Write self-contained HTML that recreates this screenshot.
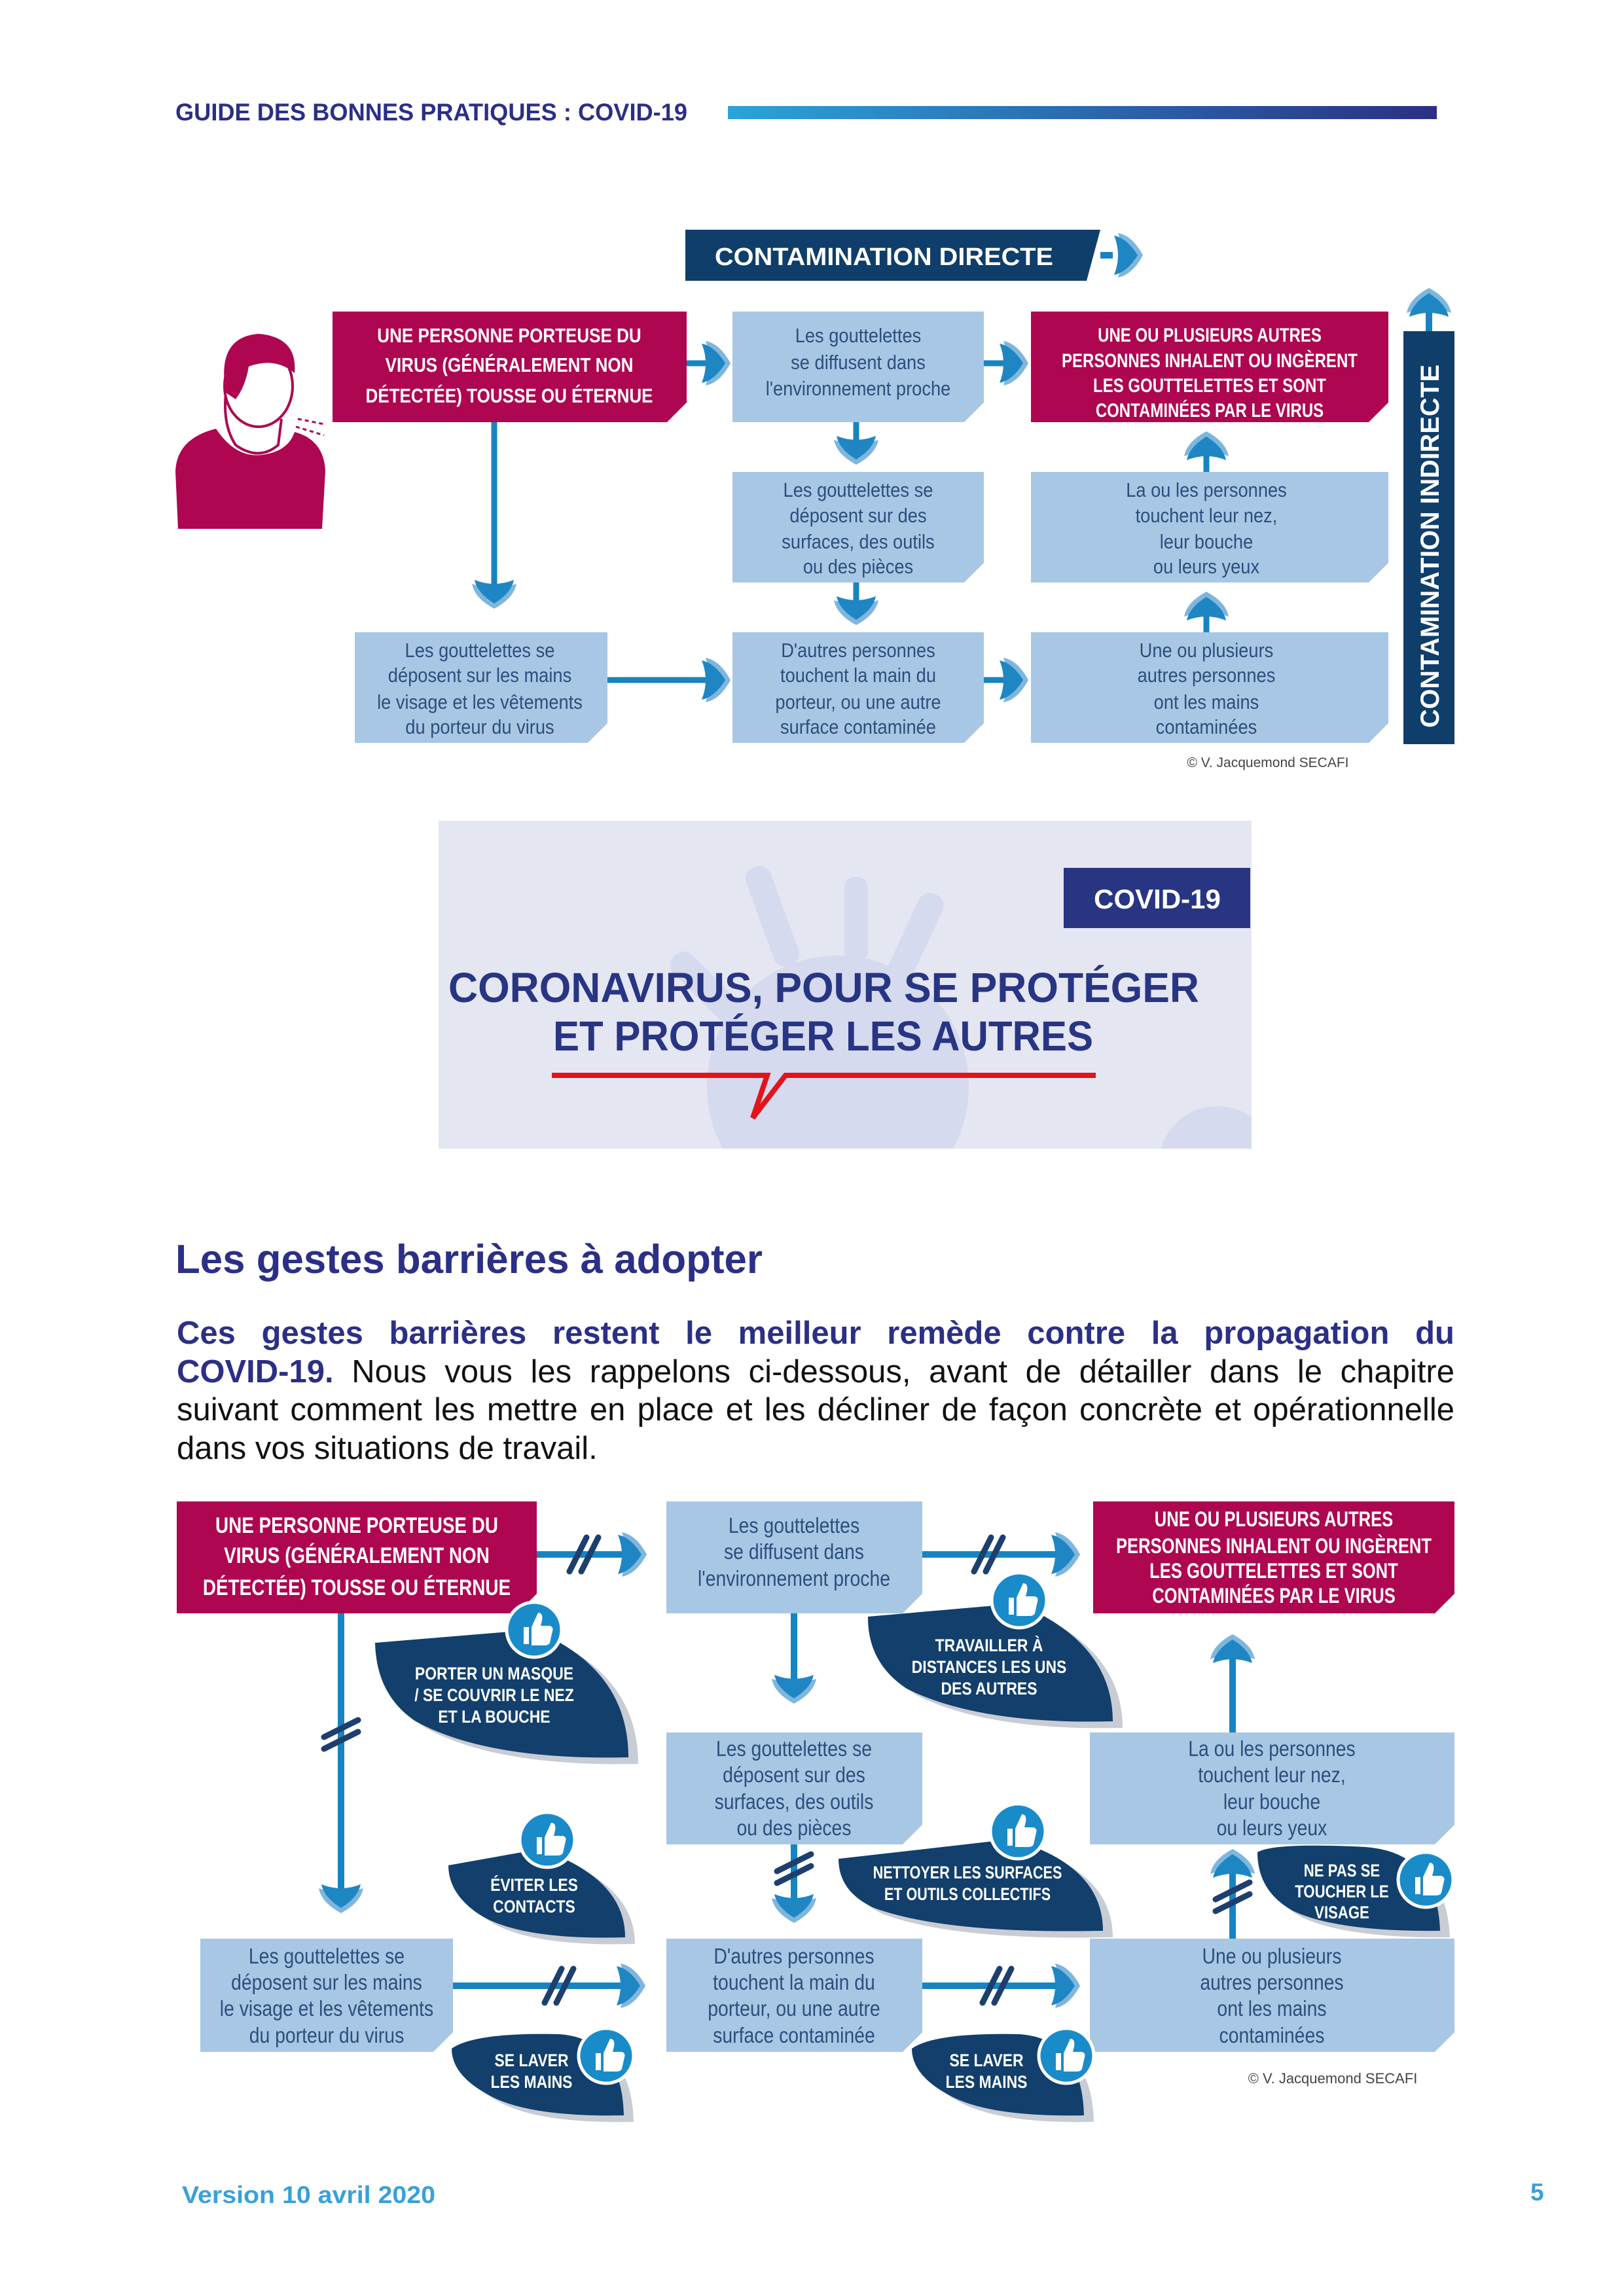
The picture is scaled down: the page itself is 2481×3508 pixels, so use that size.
<!DOCTYPE html>
<html><head><meta charset="utf-8">
<style>
html,body{margin:0;padding:0;background:#fff;}
body{width:2481px;height:3508px;position:relative;overflow:hidden;font-family:"Liberation Sans",sans-serif;}
svg{position:absolute;left:0;top:0;}
.para{position:absolute;left:270px;top:2008px;width:1952px;font-size:49px;line-height:58.5px;color:#111;}
.para div{text-align:justify;text-align-last:justify;white-space:nowrap;}
.para div.l{text-align-last:left;}
.para b{color:#2b2f86;}
</style></head><body>
<svg width="2481" height="3508" viewBox="0 0 2481 3508" font-family="'Liberation Sans',sans-serif">
<defs>
<linearGradient id="hg" x1="0" x2="1"><stop offset="0" stop-color="#2aa3db"/><stop offset="1" stop-color="#2b2f86"/></linearGradient>
<clipPath id="bc"><rect x="670" y="1254" width="1242" height="501"/></clipPath>
<g id="ah"><path d="M-20,-34 Q2,-30 18,0 Q2,30 -20,34 Q-8,0 -20,-34Z" fill="#7fb6dd"/><path d="M-26,-30 Q-6,-26 10,0 Q-6,26 -26,30 Q-14,0 -26,-30Z" fill="#1f86c4"/></g>
<g id="sl"><line x1="-22" y1="26" x2="4" y2="-26" stroke="#1d3f6e" stroke-width="9" stroke-linecap="round"/><line x1="-4" y1="26" x2="22" y2="-26" stroke="#1d3f6e" stroke-width="9" stroke-linecap="round"/></g>
<g id="th"><circle r="42" fill="#1a8bc9" stroke="#fff" stroke-width="5"/><path d="M-16,-4 h8 v26 h-8z M-4,-4 l10,-22 q8,0 6,12 l-2,8 h14 q6,2 4,8 l-4,18 q-2,4 -8,4 h-20z" fill="#fff"/></g>
</defs>

<!-- header -->
<text x="268" y="184" font-weight="bold" font-size="37" fill="#2b2f86" textLength="782" lengthAdjust="spacingAndGlyphs">GUIDE DES BONNES PRATIQUES : COVID-19</text>
<rect x="1112" y="162" width="1083" height="20" fill="url(#hg)"/>

<!-- ========== DIAGRAM 1 ========== -->
<polygon points="1047,351 1681,351 1660,429 1047,429" fill="#0f3e6b"/>
<text x="1092" y="405" font-weight="bold" font-size="38" fill="#fff" textLength="517" lengthAdjust="spacingAndGlyphs">CONTAMINATION DIRECTE</text>
<line x1="1681" y1="390" x2="1700" y2="390" stroke="#1784c1" stroke-width="10"/>
<use href="#ah" x="1728" y="390"/>

<rect x="2144" y="506" width="78" height="631" fill="#0f3e6b"/>
<text transform="translate(2198,1112) rotate(-90)" font-weight="bold" font-size="40" fill="#fff" textLength="555" lengthAdjust="spacingAndGlyphs">CONTAMINATION INDIRECTE</text>
<line x1="2183" y1="506" x2="2183" y2="470" stroke="#1784c1" stroke-width="10"/>
<use href="#ah" transform="translate(2183,458) rotate(-90)"/>

<!-- person -->
<path d="M272,808 L268,720 Q270,670 330,655 Q360,700 400,695 Q440,690 450,660 Q495,672 497,720 L492,808Z" fill="#ae0650"/>
<path d="M345,600 Q340,650 360,680 Q395,705 425,680 L430,640" fill="#fff" stroke="#ae0650" stroke-width="4"/>
<ellipse cx="395" cy="590" rx="52" ry="62" fill="#fff" stroke="#ae0650" stroke-width="4"/>
<path d="M345,600 Q330,515 395,510 Q455,515 450,570 Q420,545 380,560 Q375,590 360,610Z" fill="#ae0650"/>
<line x1="455" y1="640" x2="495" y2="648" stroke="#ae0650" stroke-width="3" stroke-dasharray="6 5"/>
<line x1="452" y1="652" x2="495" y2="665" stroke="#ae0650" stroke-width="3" stroke-dasharray="6 5"/>

<!-- boxes row 1 -->
<polygon points="508,476 1049,476 1049,615 1019,645 508,645" fill="#ae0650"/>
<g font-weight="bold" font-size="31" fill="#fff" text-anchor="middle" transform="translate(778 0) scale(0.84 1) translate(-778 0)">
<text x="778" y="523">UNE PERSONNE PORTEUSE DU</text>
<text x="778" y="568">VIRUS (GÉNÉRALEMENT NON</text>
<text x="778" y="615">DÉTECTÉE) TOUSSE OU ÉTERNUE</text>
</g>
<polygon points="1119,476 1503,476 1503,615 1473,645 1119,645" fill="#a8c7e4"/>
<g font-size="31" fill="#2c4f7c" text-anchor="middle" transform="translate(1311 0) scale(0.88 1) translate(-1311 0)">
<text x="1311" y="523">Les gouttelettes</text>
<text x="1311" y="564">se diffusent dans</text>
<text x="1311" y="604">l'environnement proche</text>
</g>
<polygon points="1575,476 2121,476 2121,615 2091,645 1575,645" fill="#ae0650"/>
<g font-weight="bold" font-size="30" fill="#fff" text-anchor="middle" transform="translate(1848 0) scale(0.8 1) translate(-1848 0)">
<text x="1848" y="522">UNE OU PLUSIEURS AUTRES</text>
<text x="1848" y="561">PERSONNES INHALENT OU INGÈRENT</text>
<text x="1848" y="599">LES GOUTTELETTES ET SONT</text>
<text x="1848" y="637">CONTAMINÉES PAR LE VIRUS</text>
</g>
<!-- row 2 -->
<polygon points="1119,721 1503,721 1503,860 1473,890 1119,890" fill="#a8c7e4"/>
<g font-size="31" fill="#2c4f7c" text-anchor="middle" transform="translate(1311 0) scale(0.88 1) translate(-1311 0)">
<text x="1311" y="759">Les gouttelettes se</text>
<text x="1311" y="798">déposent sur des</text>
<text x="1311" y="838">surfaces, des outils</text>
<text x="1311" y="876">ou des pièces</text>
</g>
<polygon points="1575,721 2121,721 2121,860 2091,890 1575,890" fill="#a8c7e4"/>
<g font-size="31" fill="#2c4f7c" text-anchor="middle" transform="translate(1843 0) scale(0.88 1) translate(-1843 0)">
<text x="1843" y="759">La ou les personnes</text>
<text x="1843" y="798">touchent leur nez,</text>
<text x="1843" y="838">leur bouche</text>
<text x="1843" y="876">ou leurs yeux</text>
</g>
<!-- row 3 -->
<polygon points="542,966 928,966 928,1105 898,1135 542,1135" fill="#a8c7e4"/>
<g font-size="31" fill="#2c4f7c" text-anchor="middle" transform="translate(733 0) scale(0.88 1) translate(-733 0)">
<text x="733" y="1004">Les gouttelettes se</text>
<text x="733" y="1042">déposent sur les mains</text>
<text x="733" y="1083">le visage et les vêtements</text>
<text x="733" y="1121">du porteur du virus</text>
</g>
<polygon points="1119,966 1503,966 1503,1105 1473,1135 1119,1135" fill="#a8c7e4"/>
<g font-size="31" fill="#2c4f7c" text-anchor="middle" transform="translate(1311 0) scale(0.88 1) translate(-1311 0)">
<text x="1311" y="1004">D'autres personnes</text>
<text x="1311" y="1042">touchent la main du</text>
<text x="1311" y="1083">porteur, ou une autre</text>
<text x="1311" y="1121">surface contaminée</text>
</g>
<polygon points="1575,966 2121,966 2121,1105 2091,1135 1575,1135" fill="#a8c7e4"/>
<g font-size="31" fill="#2c4f7c" text-anchor="middle" transform="translate(1843 0) scale(0.88 1) translate(-1843 0)">
<text x="1843" y="1004">Une ou plusieurs</text>
<text x="1843" y="1042">autres personnes</text>
<text x="1843" y="1083">ont les mains</text>
<text x="1843" y="1121">contaminées</text>
</g>
<text x="1937" y="1172" text-anchor="middle" font-size="21" fill="#444">© V. Jacquemond SECAFI</text>

<!-- connectors d1 -->
<g stroke="#1784c1" stroke-width="9" fill="none">
<line x1="1049" y1="555" x2="1085" y2="555"/>
<line x1="1503" y1="555" x2="1540" y2="555"/>
<line x1="1308" y1="645" x2="1308" y2="680"/>
<line x1="1308" y1="890" x2="1308" y2="925"/>
<line x1="755" y1="645" x2="755" y2="900"/>
<line x1="928" y1="1039" x2="1085" y2="1039"/>
<line x1="1503" y1="1039" x2="1540" y2="1039"/>
<line x1="1843" y1="966" x2="1843" y2="935"/>
<line x1="1843" y1="721" x2="1843" y2="690"/>
</g>
<use href="#ah" x="1098" y="555"/>
<use href="#ah" x="1553" y="555"/>
<use href="#ah" transform="translate(1308,692) rotate(90)"/>
<use href="#ah" transform="translate(1308,937) rotate(90)"/>
<use href="#ah" transform="translate(755,912) rotate(90)"/>
<use href="#ah" x="1098" y="1039"/>
<use href="#ah" x="1553" y="1039"/>
<use href="#ah" transform="translate(1843,922) rotate(-90)"/>
<use href="#ah" transform="translate(1843,677) rotate(-90)"/>

<!-- ========== BANNER ========== -->
<rect x="670" y="1254" width="1242" height="501" fill="#e4e6f2"/>
<g fill="#d6daee" clip-path="url(#bc)">
<circle cx="1280" cy="1660" r="200"/>
<rect x="1160" y="1320" width="40" height="160" rx="18" transform="rotate(-20 1180 1400)"/>
<rect x="1290" y="1340" width="36" height="130" rx="16"/>
<rect x="1380" y="1360" width="40" height="150" rx="18" transform="rotate(25 1400 1430)"/>
<rect x="1060" y="1440" width="40" height="150" rx="18" transform="rotate(-45 1080 1510)"/>
<circle cx="1860" cy="1780" r="90"/>
</g>
<rect x="1625" y="1326" width="285" height="92" fill="#283583"/>
<text x="1768" y="1388" text-anchor="middle" font-weight="bold" font-size="42" fill="#fff">COVID-19</text>
<g font-weight="bold" font-size="64" fill="#283583">
<text x="685" y="1531" textLength="1147" lengthAdjust="spacingAndGlyphs">CORONAVIRUS, POUR SE PROTÉGER</text>
<text x="845" y="1605" textLength="825" lengthAdjust="spacingAndGlyphs">ET PROTÉGER LES AUTRES</text>
</g>
<path d="M843,1643 L1172,1643 L1150,1708 L1200,1643 L1674,1643" fill="none" stroke="#e2141b" stroke-width="8"/>

<!-- heading -->
<text x="268" y="1945" font-weight="bold" font-size="62" fill="#2b2f86" textLength="897" lengthAdjust="spacingAndGlyphs">Les gestes barrières à adopter</text>

<!-- ========== DIAGRAM 2 ========== -->
<g stroke="#1784c1" stroke-width="10" fill="none">
<line x1="820" y1="2375" x2="960" y2="2375"/>
<line x1="1409" y1="2375" x2="1620" y2="2375"/>
<line x1="1213" y1="2465" x2="1213" y2="2570"/>
<line x1="1213" y1="2818" x2="1213" y2="2905"/>
<line x1="521" y1="2465" x2="521" y2="2890"/>
<line x1="692" y1="3034" x2="955" y2="3034"/>
<line x1="1409" y1="3034" x2="1620" y2="3034"/>
<line x1="1883" y1="2962" x2="1883" y2="2860"/>
<line x1="1883" y1="2647" x2="1883" y2="2530"/>
</g>
<use href="#ah" x="970" y="2375"/>
<use href="#ah" x="1632" y="2375"/>
<use href="#ah" transform="translate(1213,2585) rotate(90)"/>
<use href="#ah" transform="translate(1213,2920) rotate(90)"/>
<use href="#ah" transform="translate(521,2905) rotate(90)"/>
<use href="#ah" x="968" y="3034"/>
<use href="#ah" x="1632" y="3034"/>
<use href="#ah" transform="translate(1883,2843) rotate(-90)"/>
<use href="#ah" transform="translate(1883,2515) rotate(-90)"/>
<use href="#sl" x="892" y="2375"/>
<use href="#sl" x="1510" y="2375"/>
<use href="#sl" transform="translate(1213,2855) rotate(90) scale(1,-1)"/>
<use href="#sl" transform="translate(521,2650) rotate(90) scale(1,-1)"/>
<use href="#sl" x="854" y="3034"/>
<use href="#sl" x="1523" y="3034"/>
<use href="#sl" transform="translate(1883,2898) rotate(90) scale(1,-1)"/>

<polygon points="270,2294 820,2294 820,2435 790,2465 270,2465" fill="#ae0650"/>
<g font-weight="bold" font-size="34" fill="#fff" text-anchor="middle" transform="translate(545 0) scale(0.82 1) translate(-545 0)">
<text x="545" y="2342">UNE PERSONNE PORTEUSE DU</text>
<text x="545" y="2388">VIRUS (GÉNÉRALEMENT NON</text>
<text x="545" y="2437">DÉTECTÉE) TOUSSE OU ÉTERNUE</text>
</g>
<polygon points="1018,2294 1409,2294 1409,2435 1379,2465 1018,2465" fill="#a8c7e4"/>
<g font-size="33" fill="#2c4f7c" text-anchor="middle" transform="translate(1213 0) scale(0.86 1) translate(-1213 0)">
<text x="1213" y="2342">Les gouttelettes</text>
<text x="1213" y="2382">se diffusent dans</text>
<text x="1213" y="2423">l'environnement proche</text>
</g>
<polygon points="1670,2294 2222,2294 2222,2435 2192,2465 1670,2465" fill="#ae0650"/>
<g font-weight="bold" font-size="32" fill="#fff" text-anchor="middle" transform="translate(1946 0) scale(0.8 1) translate(-1946 0)">
<text x="1946" y="2332">UNE OU PLUSIEURS AUTRES</text>
<text x="1946" y="2373">PERSONNES INHALENT OU INGÈRENT</text>
<text x="1946" y="2411">LES GOUTTELETTES ET SONT</text>
<text x="1946" y="2449">CONTAMINÉES PAR LE VIRUS</text>
</g>
<polygon points="1018,2647 1409,2647 1409,2788 1379,2818 1018,2818" fill="#a8c7e4"/>
<g font-size="33" fill="#2c4f7c" text-anchor="middle" transform="translate(1213 0) scale(0.86 1) translate(-1213 0)">
<text x="1213" y="2683">Les gouttelettes se</text>
<text x="1213" y="2723">déposent sur des</text>
<text x="1213" y="2764">surfaces, des outils</text>
<text x="1213" y="2804">ou des pièces</text>
</g>
<polygon points="1665,2647 2222,2647 2222,2788 2192,2818 1665,2818" fill="#a8c7e4"/>
<g font-size="33" fill="#2c4f7c" text-anchor="middle" transform="translate(1943 0) scale(0.86 1) translate(-1943 0)">
<text x="1943" y="2683">La ou les personnes</text>
<text x="1943" y="2723">touchent leur nez,</text>
<text x="1943" y="2764">leur bouche</text>
<text x="1943" y="2804">ou leurs yeux</text>
</g>
<polygon points="306,2962 692,2962 692,3105 662,3135 306,3135" fill="#a8c7e4"/>
<g font-size="33" fill="#2c4f7c" text-anchor="middle" transform="translate(499 0) scale(0.86 1) translate(-499 0)">
<text x="499" y="3000">Les gouttelettes se</text>
<text x="499" y="3040">déposent sur les mains</text>
<text x="499" y="3080">le visage et les vêtements</text>
<text x="499" y="3121">du porteur du virus</text>
</g>
<polygon points="1018,2962 1409,2962 1409,3105 1379,3135 1018,3135" fill="#a8c7e4"/>
<g font-size="33" fill="#2c4f7c" text-anchor="middle" transform="translate(1213 0) scale(0.86 1) translate(-1213 0)">
<text x="1213" y="3000">D'autres personnes</text>
<text x="1213" y="3040">touchent la main du</text>
<text x="1213" y="3080">porteur, ou une autre</text>
<text x="1213" y="3121">surface contaminée</text>
</g>
<polygon points="1665,2962 2222,2962 2222,3105 2192,3135 1665,3135" fill="#a8c7e4"/>
<g font-size="33" fill="#2c4f7c" text-anchor="middle" transform="translate(1943 0) scale(0.86 1) translate(-1943 0)">
<text x="1943" y="3000">Une ou plusieurs</text>
<text x="1943" y="3040">autres personnes</text>
<text x="1943" y="3080">ont les mains</text>
<text x="1943" y="3121">contaminées</text>
</g>
<text x="2036" y="3183" text-anchor="middle" font-size="22" fill="#444">© V. Jacquemond SECAFI</text>

<!-- leaves -->
<path d="M588,2520 L830,2500 Q975,2560 975,2695 Q760,2700 650,2640 Q590,2600 588,2520Z" fill="#c8ccd4"/>
<path d="M573,2510 L815,2490 Q960,2550 960,2685 Q745,2690 635,2630 Q575,2590 573,2510Z" fill="#123f6c"/>
<use href="#th" x="816" y="2490"/>
<g font-weight="bold" font-size="27" fill="#fff" text-anchor="middle" transform="translate(755 0) scale(0.85 1) translate(-755 0)">
<text x="755" y="2566">PORTER UN MASQUE</text><text x="755" y="2599">/ SE COUVRIR LE NEZ</text><text x="755" y="2632">ET LA BOUCHE</text></g>

<path d="M1341,2480 L1570,2460 Q1715,2520 1715,2640 Q1510,2645 1400,2590 Q1340,2550 1341,2480Z" fill="#c8ccd4"/>
<path d="M1326,2470 L1555,2450 Q1700,2510 1700,2630 Q1495,2635 1385,2580 Q1325,2540 1326,2470Z" fill="#123f6c"/>
<use href="#th" x="1557" y="2445"/>
<g font-weight="bold" font-size="27" fill="#fff" text-anchor="middle" transform="translate(1511 0) scale(0.85 1) translate(-1511 0)">
<text x="1511" y="2523">TRAVAILLER À</text><text x="1511" y="2556">DISTANCES LES UNS</text><text x="1511" y="2589">DES AUTRES</text></g>

<path d="M700,2860 L840,2835 Q970,2880 970,2970 Q800,2975 740,2930 Q700,2900 700,2860Z" fill="#c8ccd4"/>
<path d="M685,2850 L825,2825 Q955,2870 955,2960 Q785,2965 725,2920 Q685,2890 685,2850Z" fill="#123f6c"/>
<use href="#th" x="836" y="2811"/>
<g font-weight="bold" font-size="27" fill="#fff" text-anchor="middle" transform="translate(816 0) scale(0.85 1) translate(-816 0)">
<text x="816" y="2889">ÉVITER LES</text><text x="816" y="2922">CONTACTS</text></g>

<path d="M1296,2850 L1560,2820 Q1700,2860 1700,2960 Q1460,2965 1350,2925 Q1296,2900 1296,2850Z" fill="#c8ccd4"/>
<path d="M1281,2840 L1545,2810 Q1685,2850 1685,2950 Q1445,2955 1335,2915 Q1281,2890 1281,2840Z" fill="#123f6c"/>
<use href="#th" x="1555" y="2798"/>
<g font-weight="bold" font-size="27" fill="#fff" text-anchor="middle" transform="translate(1478 0) scale(0.8 1) translate(-1478 0)">
<text x="1478" y="2870">NETTOYER LES SURFACES</text><text x="1478" y="2903">ET OUTILS COLLECTIFS</text></g>

<path d="M1935,2840 Q1960,2825 2100,2832 Q2210,2840 2215,2960 Q2060,2962 1990,2930 Q1935,2900 1935,2840Z" fill="#c8ccd4"/>
<path d="M1921,2830 Q1946,2815 2086,2822 Q2196,2830 2200,2950 Q2046,2952 1976,2920 Q1921,2890 1921,2830Z" fill="#123f6c"/>
<g font-weight="bold" font-size="27" fill="#fff" text-anchor="middle" transform="translate(2050 0) scale(0.82 1) translate(-2050 0)">
<text x="2050" y="2867">NE PAS SE</text><text x="2050" y="2899">TOUCHER LE</text><text x="2050" y="2931">VISAGE</text></g>
<use href="#th" x="2178" y="2872"/>

<path d="M705,3140 Q740,3115 870,3118 Q965,3125 968,3242 Q820,3245 760,3210 Q705,3180 705,3140Z" fill="#c8ccd4"/>
<path d="M690,3130 Q725,3105 855,3108 Q950,3115 953,3232 Q805,3235 745,3200 Q690,3170 690,3130Z" fill="#123f6c"/>
<use href="#th" x="926" y="3141"/>
<g font-weight="bold" font-size="27" fill="#fff" text-anchor="middle" transform="translate(812 0) scale(0.85 1) translate(-812 0)">
<text x="812" y="3157">SE LAVER</text><text x="812" y="3190">LES MAINS</text></g>

<path d="M1408,3140 Q1443,3115 1573,3118 Q1668,3125 1671,3242 Q1523,3245 1463,3210 Q1408,3180 1408,3140Z" fill="#c8ccd4"/>
<path d="M1393,3130 Q1428,3105 1558,3108 Q1653,3115 1656,3232 Q1508,3235 1448,3200 Q1393,3170 1393,3130Z" fill="#123f6c"/>
<use href="#th" x="1629" y="3141"/>
<g font-weight="bold" font-size="27" fill="#fff" text-anchor="middle" transform="translate(1507 0) scale(0.85 1) translate(-1507 0)">
<text x="1507" y="3157">SE LAVER</text><text x="1507" y="3190">LES MAINS</text></g>

<!-- footer -->
<text x="278" y="3366" font-weight="bold" font-size="37" fill="#3aa0d8" textLength="387" lengthAdjust="spacingAndGlyphs">Version 10 avril 2020</text>
<text x="2338" y="3362" font-weight="bold" font-size="37" fill="#3aa0d8">5</text>
</svg>

<div class="para">
<div><b>Ces gestes barrières restent le meilleur remède contre la propagation du</b></div>
<div><b>COVID-19.</b> Nous vous les rappelons ci-dessous, avant de détailler dans le chapitre</div>
<div>suivant comment les mettre en place et les décliner de façon concrète et opérationnelle</div>
<div class="l">dans vos situations de travail.</div>
</div>
</body></html>
